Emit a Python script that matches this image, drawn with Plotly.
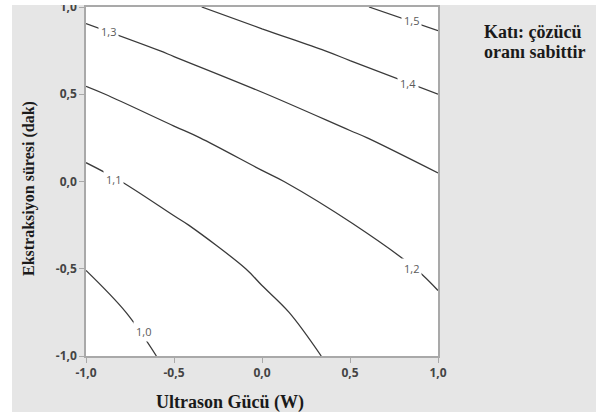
import plotly.graph_objects as go

# Grid of the response surface (coded units)
x_vals = [-1.0, -0.5, 0.0, 0.5, 1.0]
y_vals = [-1.0, -0.75, -0.5, -0.25, 0.0, 0.25, 0.5, 0.75, 1.0]

z_y_m100 = [0.956, 1.011, 1.065, 1.117, 1.168]
z_y_m075 = [0.975, 1.030, 1.084, 1.136, 1.187]
z_y_m050 = [1.001, 1.056, 1.110, 1.162, 1.213]
z_y_m025 = [1.036, 1.091, 1.145, 1.197, 1.248]
z_y_p000 = [1.078, 1.133, 1.187, 1.239, 1.290]
z_y_p025 = [1.129, 1.184, 1.238, 1.290, 1.341]
z_y_p050 = [1.188, 1.243, 1.297, 1.349, 1.400]
z_y_p075 = [1.254, 1.309, 1.363, 1.415, 1.466]
z_y_p100 = [1.328, 1.383, 1.437, 1.489, 1.540]

contour_levels = [1.0, 1.1, 1.2, 1.3, 1.4, 1.5]
contour_labels = ["1,0", "1,1", "1,2", "1,3", "1,4", "1,5"]

tick_vals = [-1.0, -0.5, 0.0, 0.5, 1.0]
tick_text = ["-1,0", "-0,5", "0,0", "0,5", "1,0"]

x_title = "Ultrason Gücü (W)"
y_title = "Ekstraksiyon süresi (dak)"
note_lines = ["Katı: çözücü", "oranı sabittir"]

z = [z_y_m100, z_y_m075, z_y_m050, z_y_m025, z_y_p000,
     z_y_p025, z_y_p050, z_y_p075, z_y_p100]

W, H = 596, 412
L, R, T, B = 86, 158, 7, 56
pw, ph = W - L - R, H - T - B

def px(xp):
    return (xp - L) / pw

def py(yp):
    return (H - B - yp) / ph

# where each level's inline label sits on its line (layout placement, data units)
label_place = {
    "1,0": (-0.674, -0.861),
    "1,1": (-0.845, 0.009),
    "1,2": (0.851, -0.501),
    "1,3": (-0.873, 0.859),
    "1,4": (0.831, 0.563),
    "1,5": (0.851, 0.925),
}

line_col = "#3a3a3a"
fig = go.Figure()
fig.add_trace(go.Contour(
    x=x_vals, y=y_vals, z=z,
    autocontour=False,
    contours=dict(coloring="lines", start=contour_levels[0], end=contour_levels[-1],
                  size=round(contour_levels[1] - contour_levels[0], 3), showlabels=False),
    colorscale=[[0, line_col], [1, line_col]],
    line=dict(width=1.3, smoothing=1),
    showscale=False, hoverinfo="skip",
))

annotations = []
for lab in contour_labels:
    lx, ly = label_place[lab]
    annotations.append(dict(
        text=lab, x=lx, y=ly, xref="x", yref="y", showarrow=False,
        xanchor="center", yanchor="middle", bgcolor="white", borderpad=2,
        font=dict(family="Open Sans", size=11, color="#5a5a5a")))

annotations += [
    dict(text=x_title, xref="paper", yref="paper", x=px(230), y=py(402),
         xanchor="center", yanchor="middle", showarrow=False,
         font=dict(family="Liberation Serif", size=18, color="#1a1a1a", weight="bold")),
    dict(text=y_title, xref="paper", yref="paper", x=px(29), y=py(189),
         xanchor="center", yanchor="middle", showarrow=False, textangle=-90,
         font=dict(family="Liberation Serif", size=16, color="#1a1a1a", weight="bold")),
]
for i, line in enumerate(note_lines):
    annotations.append(dict(
        text=line, xref="paper", yref="paper", x=px(482), y=py(32 + 20 * i),
        xanchor="left", yanchor="middle", align="left", showarrow=False,
        font=dict(family="Liberation Serif", size=18, color="#1a1a1a", weight="bold")))

axis_common = dict(
    range=[-1, 1], tickvals=tick_vals, ticktext=tick_text,
    showgrid=False, zeroline=False, showline=True, mirror=True,
    linecolor="#a9a9a9", linewidth=1.5, automargin=False,
    ticklabeloverflow="allow",
    ticks="outside", ticklen=5, tickwidth=1, tickcolor="#a9a9a9",
    tickfont=dict(family="Open Sans", size=12, color="#444444", weight="bold"),
)

fig.update_layout(
    width=W, height=H,
    margin=dict(l=L, r=R, t=T, b=B, pad=0, autoexpand=False),
    paper_bgcolor="#e6e6e6", plot_bgcolor="white",
    separators=",.",
    xaxis=dict(**axis_common),
    yaxis=dict(**axis_common),
    showlegend=False,
    shapes=[
        dict(type="rect", xref="paper", yref="paper", layer="above",
             x0=px(-2), x1=px(12), y0=py(H + 2), y1=py(-2),
             fillcolor="white", line=dict(width=0)),
        dict(type="rect", xref="paper", yref="paper", layer="above",
             x0=px(-2), x1=px(W + 2), y0=py(5), y1=py(-2),
             fillcolor="white", line=dict(width=0)),
    ],
    annotations=annotations,
)

fig.write_html("out.html", config={"displayModeBar": False},
               post_script="document.body.style.margin='0';document.body.style.overflow='hidden';")
